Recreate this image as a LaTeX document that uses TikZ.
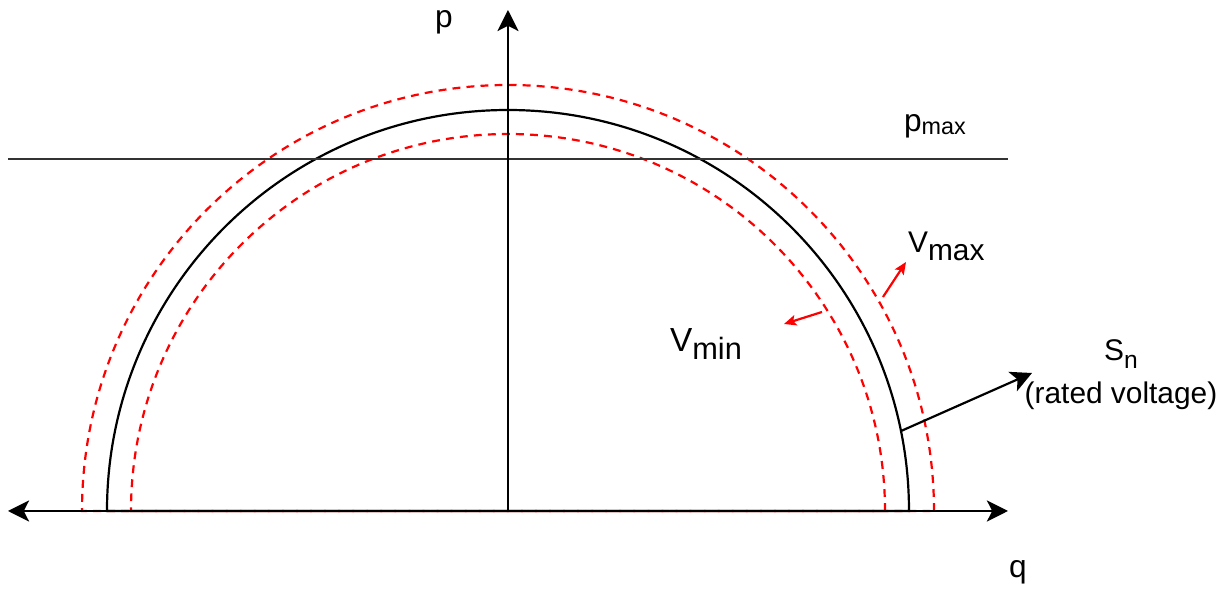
\documentclass[tikz,border=0pt]{standalone}
\usepackage{fontspec}
\setmainfont{Liberation Sans}
\usetikzlibrary{arrows.meta}

\newcommand{\lowr}[2]{\raisebox{-#1}{#2}}

\tikzset{
  bigtip/.style={-{Stealth[length=12pt,width=12pt,inset=3pt]}},
  smalltip/.style={-{Stealth[length=7pt,width=6pt,inset=1.5pt]}},
  vlimit/.style={red, dashed, dash pattern=on 4.5pt off 3.5pt},
  lbl/.style={inner sep=0pt, font=\fontsize{17}{20}\selectfont}
}

\begin{document}
\begin{tikzpicture}[x=2cm, y=2cm, line width=1.25pt]
        \useasboundingbox (-5.08,-0.78) rectangle (7.21,5.11);

        \coordinate (o) at (0,0);
        \coordinate (qleft) at (-5,0);
        \coordinate (qright) at (5,0);
        \coordinate (ptop) at (0,5.01);

        % voltage limits and rated circle
        \draw[vlimit] (4.26,0) arc (0:180:4.26) -- cycle;
        \draw[vlimit] (3.77,0) arc (0:180:3.77) -- cycle;
        \draw (4.01,0) arc (0:180:4.01) -- cycle;

        % active power limit
        \coordinate (pmaxl) at (-5,3.52);
        \coordinate (pmaxr) at (5,3.52);
        \draw[black!80] (pmaxl) -- (pmaxr);

        % axes
        \draw[{Stealth[length=12pt,width=12pt,inset=3pt]}-{Stealth[length=12pt,width=12pt,inset=3pt]}] (qleft) -- (qright);
        \draw[bigtip] (o) -- (ptop);

        \node[lbl, anchor=base] (plbl) at (-0.64,4.83) {\fontsize{18}{21}\selectfont p};
        \node[lbl, anchor=base] (qlbl) at (5.10,-0.67) {\fontsize{18}{21}\selectfont q};
        \node[lbl, anchor=base west] (pmaxlbl) at (3.95,3.79)
          {\fontsize{18}{21}\selectfont p\lowr{1.7pt}{\fontsize{13.3}{15}\selectfont max}};

        % arrows pointing away from the limits
        \coordinate (vmaxfoot) at (3.75,2.14);
        \coordinate (vmaxhead) at (3.98,2.49);
        \draw[red, smalltip] (vmaxfoot) -- (vmaxhead);
        \node[lbl, anchor=base west] (vmaxlbl) at (3.99,2.58) {V\lowr{4.5pt}{max}};

        \coordinate (vminfoot) at (3.14,1.99);
        \coordinate (vminhead) at (2.76,1.87);
        \draw[red, smalltip] (vminfoot) -- (vminhead);
        \node[lbl, anchor=base west] (vminlbl) at (1.61,1.59)
          {\fontsize{19}{22}\selectfont V\lowr{4pt}{\fontsize{17.5}{20}\selectfont min}};

        \coordinate (snfoot) at (11.5:4.01);
        \coordinate (snhead) at (5.24,1.38);
        \draw[bigtip] (snfoot) -- (snhead);
        \node[lbl, anchor=base west] (snlbl) at (5.95,1.50) {S\lowr{4pt}{\fontsize{14}{16}\selectfont n}};
        \node[lbl, anchor=base] (ratedlbl) at (6.13,1.07) {(rated voltage)};
\end{tikzpicture}
\end{document}
